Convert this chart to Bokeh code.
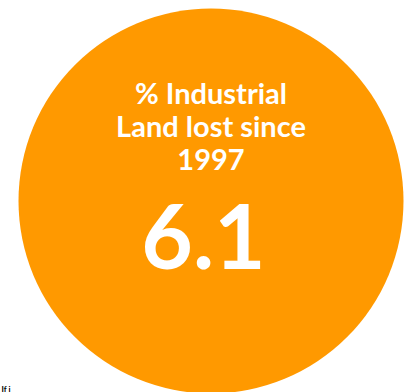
from bokeh.plotting import figure
from bokeh.models import Range1d, ColumnDataSource
from bokeh.core.properties import value
from bokeh.embed import file_html
from bokeh.resources import INLINE

# Data
title_lines = ["% Industrial", "Land lost since", "1997"]
metric_value = [6.1]
footer_text = ["If i"]

W, H = 404, 392
p = figure(width=W, height=H, output_backend="svg", toolbar_location=None,
           x_range=Range1d(0, W), y_range=Range1d(H, 0), min_border=0)
p.axis.visible = False
p.grid.visible = False
p.outline_line_color = None
p.background_fill_color = "white"
p.border_fill_color = "white"

ORANGE = "#FF9900"
cx, cy, r = 210.5, 200.5, 192.5

p.circle(x=[cx], y=[cy], radius=r, fill_color=ORANGE, line_color=None)

title_src = ColumnDataSource(dict(
    x=[cx] * len(title_lines),
    y=[92 + 33.3 * i for i in range(len(title_lines))],
    t=title_lines))
p.text(x="x", y="y", text="t", source=title_src, text_color="white",
       text_font=value("Lato"), text_font_style="bold", text_font_size="29px",
       text_align="center", text_baseline="alphabetic")

val_src = ColumnDataSource(dict(x=[203], y=[235.5], t=[f"{v:.1f}" for v in metric_value]))
p.text(x="x", y="y", text="t", source=val_src, text_color="white",
       text_font=value("Lato"), text_font_style="bold", text_font_size="89px",
       text_align="center", text_baseline="alphabetic")

foot_src = ColumnDataSource(dict(x=[1], y=[383], t=footer_text))
p.text(x="x", y="y", text="t", source=foot_src, text_color="black",
       text_font=value("Lato"), text_font_style="bold", text_font_size="8px",
       text_align="left", text_baseline="top")

open("out.html", "w").write(file_html(p, INLINE))
